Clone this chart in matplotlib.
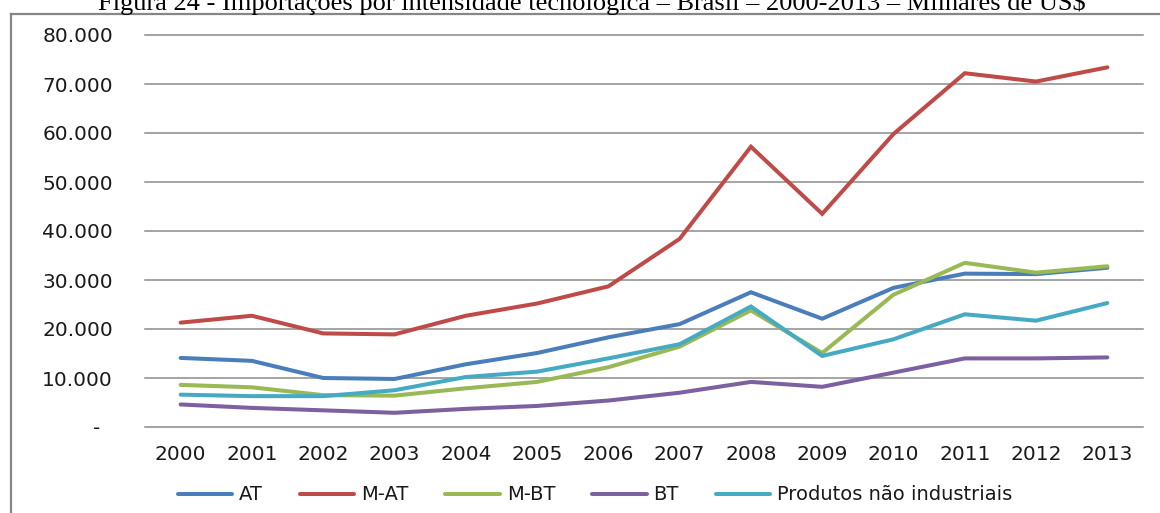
import numpy as np
import matplotlib.pyplot as plt
from matplotlib.lines import Line2D
from matplotlib.ticker import FuncFormatter

# importações por intensidade tecnológica, milhares de US$
anos = ["2000", "2001", "2002", "2003", "2004", "2005", "2006",
        "2007", "2008", "2009", "2010", "2011", "2012", "2013"]
at = [14100, 13500, 10000, 9800, 12800, 15100, 18300,
      21000, 27500, 22100, 28400, 31300, 31200, 32500]
m_at = [21300, 22700, 19100, 18900, 22700, 25200, 28700,
        38400, 57200, 43500, 59800, 72200, 70500, 73400]
m_bt = [8600, 8100, 6500, 6400, 7900, 9200, 12200,
        16400, 23800, 15100, 27000, 33500, 31500, 32800]
bt = [4600, 3900, 3400, 2900, 3700, 4300, 5400,
      7000, 9200, 8200, 11100, 14000, 14000, 14200]
nao_ind = [6600, 6300, 6300, 7500, 10200, 11300, 14000,
           16900, 24600, 14500, 17900, 23000, 21700, 25300]

series = [("AT", at, "#4A7EBB"),
          ("M-AT", m_at, "#BE4B48"),
          ("M-BT", m_bt, "#98B954"),
          ("BT", bt, "#7D60A0"),
          ("Produtos não industriais", nao_ind, "#46AAC5")]

W, H = 1160, 513
fig = plt.figure(figsize=(W / 100, H / 100), dpi=100)
ax = fig.add_axes([145 / W, 1 - 427 / H, 998 / W, 392 / H])

x = np.arange(len(anos))
for nome, valores, cor in series:
    ax.plot(x, valores, color=cor, lw=2.9, label=nome,
            solid_joinstyle="miter", solid_capstyle="round")

ax.set_xlim(-0.5, len(anos) - 0.5)
ax.set_ylim(0, 80000)
ax.set_yticks(np.arange(0, 80001, 10000))
ax.set_xticks(x)
ax.set_xticklabels(anos)


def milhares(v, pos):
    if v == 0:
        return "-  "
    return f"{int(v):,}".replace(",", ".")


ax.yaxis.set_major_formatter(FuncFormatter(milhares))
ax.tick_params(axis="both", length=0, labelsize=14.5, colors="#1a1a1a")
ax.tick_params(axis="y", pad=23)
ax.tick_params(axis="x", pad=13)
for s in ax.spines.values():
    s.set_visible(False)
ax.grid(axis="y", color="#8c8c8c", lw=1.1)
ax.set_axisbelow(True)
for gl in ax.get_ygridlines():
    gl.set_clip_on(False)

leg = fig.legend(loc="center", bbox_to_anchor=(595 / W, 1 - 495 / H),
                 ncol=5, frameon=False, fontsize=14,
                 handlelength=2.8, handletextpad=0.35, columnspacing=1.9)
for t in leg.get_texts():
    t.set_color("#1a1a1a")

# moldura do gráfico (só topo e lado esquerdo aparecem)
fig.add_artist(Line2D([10.5 / W, 10.5 / W], [0, 1 - 13.5 / H],
                      transform=fig.transFigure, color="#868686", lw=1.6))
fig.add_artist(Line2D([10.5 / W, 1], [1 - 13.5 / H, 1 - 13.5 / H],
                      transform=fig.transFigure, color="#868686", lw=1.6))

fig.text(592 / W, 1 - 10 / H,
         "Figura 24 - Importações por intensidade tecnológica – Brasil – "
         "2000-2013 – Milhares de US$",
         ha="center", va="baseline", fontsize=19, family="Liberation Serif")

fig.savefig("out.png", dpi=100)
